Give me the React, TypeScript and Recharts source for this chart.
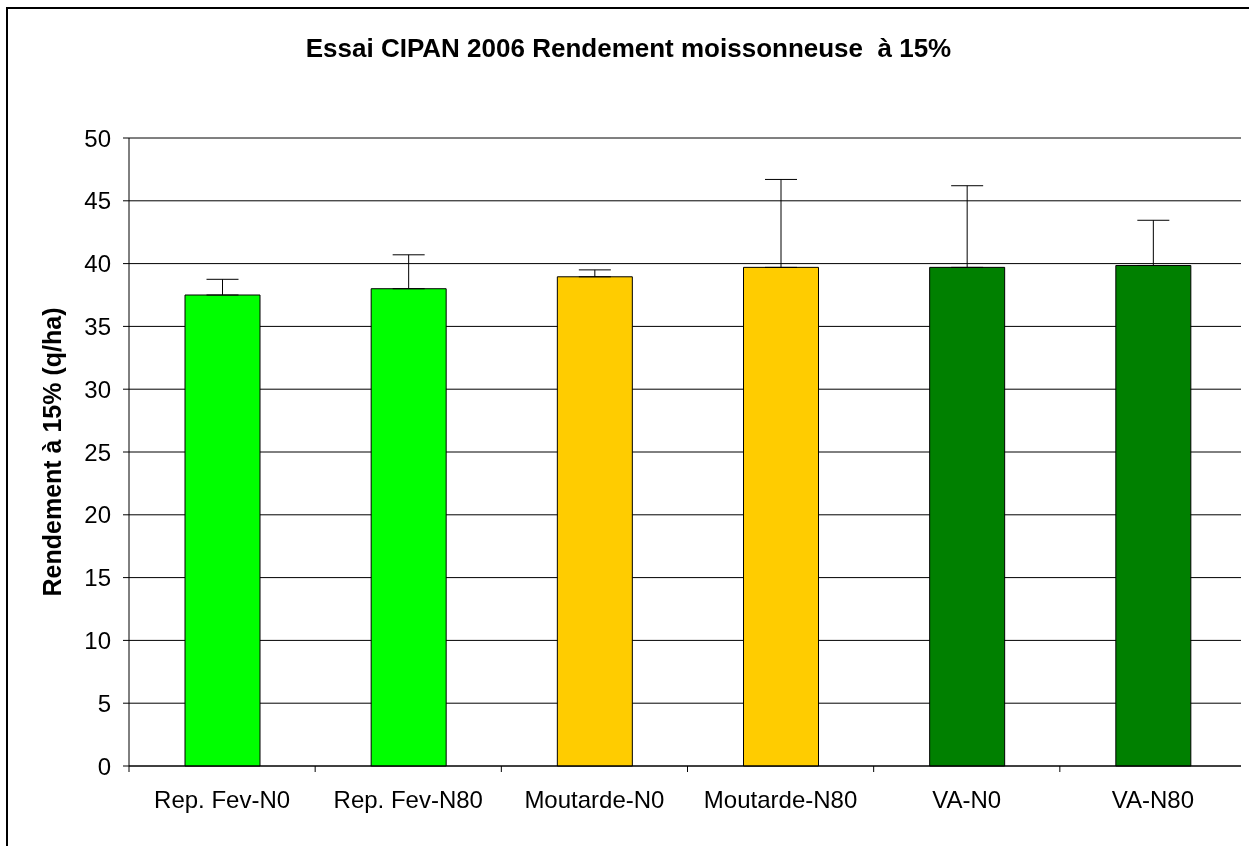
import { Bar, BarChart, CartesianGrid, Cell, ErrorBar, XAxis, YAxis } from "recharts";

const categories = ["Rep. Fev-N0", "Rep. Fev-N80", "Moutarde-N0", "Moutarde-N80", "VA-N0", "VA-N80"];
const yields = [37.5, 38.0, 38.95, 39.7, 39.7, 39.85];
const errorsUp = [1.25, 2.7, 0.55, 7.0, 6.5, 3.6];
const barColors = ["#00ff00", "#00ff00", "#ffcc00", "#ffcc00", "#008000", "#008000"];
const yTicks = [0, 5, 10, 15, 20, 25, 30, 35, 40, 45, 50];

const data = categories.map((name, i) => ({
  name,
  value: yields[i],
  err: [0, errorsUp[i]],
}));

const font = "'Liberation Sans', Arial, sans-serif";

// Excel style: tick marks sit between categories, label in the middle
function CategoryTick(props: any) {
  const { x, y, payload, index, visibleTicksCount } = props;
  const half = payload?.offset ?? 0;
  const isLast = index === visibleTicksCount - 1;
  return (
    <g>
      <line x1={x - half} y1={y} x2={x - half} y2={y + 6} stroke="#000" />
      {isLast && <line x1={x + half} y1={y} x2={x + half} y2={y + 6} stroke="#000" />}
      <text x={x} y={y + 25} dy="0.71em" textAnchor="middle" fill="#000" fontSize={24}>
        {payload.value}
      </text>
    </g>
  );
}

export default function App() {
  return (
    <div style={{ position: "relative", width: 1241, height: 838, fontFamily: font }}>
      <div
        style={{
          position: "fixed",
          left: 6,
          top: 7,
          width: 1260,
          height: 900,
          borderLeft: "2px solid #000",
          borderTop: "2px solid #000",
          pointerEvents: "none",
        }}
      />
      <div
        style={{
          position: "absolute",
          top: 27,
          left: 0,
          width: 1241,
          textAlign: "center",
          fontSize: 26,
          lineHeight: "26px",
          fontWeight: "bold",
          whiteSpace: "pre",
          color: "#000",
        }}
      >
        {"Essai CIPAN 2006 Rendement moissonneuse  à 15%"}
      </div>
      <BarChart
        width={1241}
        height={838}
        data={data}
        margin={{ top: 130, right: 3, left: 0, bottom: 0 }}
        style={{ fontFamily: font }}
      >
        <CartesianGrid vertical={false} stroke="#000" strokeWidth={1} />
        {/* plot area border (top and right), grey like Excel */}
        <CartesianGrid
          stroke="#808080"
          horizontalCoordinatesGenerator={({ offset }: any) => [offset.top]}
          verticalCoordinatesGenerator={({ offset }: any) => [offset.left + offset.width]}
        />
        <XAxis
          dataKey="name"
          interval={0}
          tickLine={false}
          tickSize={0}
          tickMargin={0}
          axisLine={{ stroke: "#000" }}
          height={80}
          tick={<CategoryTick />}
        />
        <YAxis
          domain={[0, 50]}
          ticks={yTicks}
          width={121}
          tickSize={6}
          tickMargin={12}
          axisLine={{ stroke: "#000" }}
          tickLine={{ stroke: "#000" }}
          tick={{ fill: "#000", fontSize: 24 }}
          label={{
            value: "Rendement à 15% (q/ha)",
            angle: -90,
            position: "insideLeft",
            offset: 44,
            style: { textAnchor: "middle", fontSize: 25, fontWeight: "bold", fill: "#000" },
          }}
        />
        <Bar dataKey="value" barSize={75} stroke="#000" strokeWidth={1} isAnimationActive={false}>
          {data.map((d, i) => (
            <Cell key={d.name} fill={barColors[i]} />
          ))}
          <ErrorBar dataKey="err" direction="y" width={16} stroke="#000" strokeWidth={1} isAnimationActive={false} />
        </Bar>
      </BarChart>
    </div>
  );
}
